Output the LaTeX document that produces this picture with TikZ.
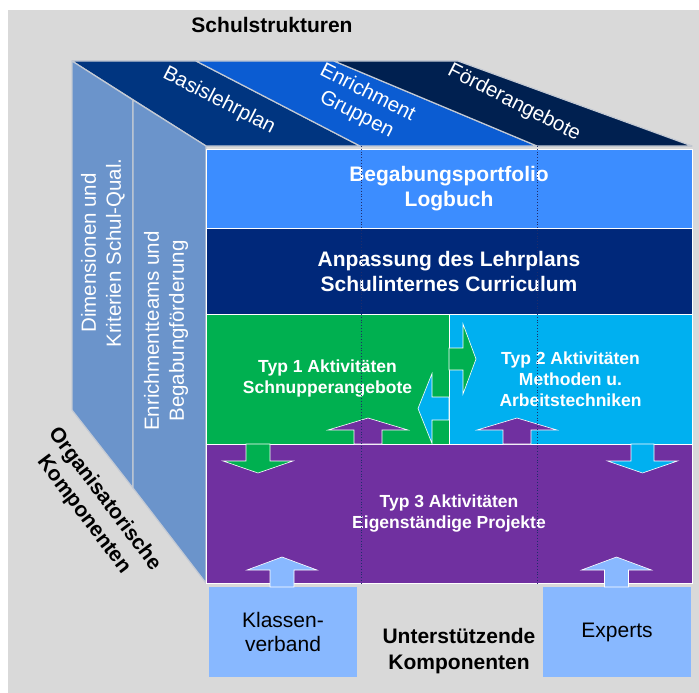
\documentclass[tikz,border=0pt]{standalone}
\usepackage{fontspec}
\setmainfont{Liberation Sans}
\usepackage{tikz}

\definecolor{bggray}{HTML}{D9D9D9}
\definecolor{edgegray}{HTML}{C4CAD4}
\definecolor{sideblue}{HTML}{6B94CB}
\definecolor{basisblue}{HTML}{003580}
\definecolor{enrichblue}{HTML}{0B5CD2}
\definecolor{foerderblue}{HTML}{002050}
\definecolor{portblue}{HTML}{3C8DFF}
\definecolor{planblue}{HTML}{00287A}
\definecolor{typgreen}{HTML}{00B050}
\definecolor{typcyan}{HTML}{00B0F0}
\definecolor{typpurple}{HTML}{7030A0}
\definecolor{boxblue}{HTML}{88B8FF}
\definecolor{dotblue}{HTML}{1F2D6B}

\tikzstyle{slab}=[draw=edgegray,line width=1.2pt,line join=round]
\tikzstyle{row}=[rectangle,draw=white,line width=0.8pt,inner sep=0pt,text=white,align=center,font=\bfseries\fontsize{21}{25}\selectfont]
\tikzstyle{typ}=[row,font=\bfseries\fontsize{17.5}{21}\selectfont]
\tikzstyle{sidelabel}=[text=white,align=center,rotate=90,font=\fontsize{20.5}{25}\selectfont]
\tikzstyle{toplabel}=[text=white,align=center,rotate=-27,font=\fontsize{20.5}{24}\selectfont]
\tikzstyle{title}=[align=center,font=\bfseries\fontsize{21}{26}\selectfont]
\tikzstyle{support}=[rectangle,fill=boxblue,inner sep=0pt,minimum width=148,minimum height=90,align=center,font=\fontsize{21}{24}\selectfont]
\tikzstyle{arrowline}=[draw=white,line width=0.6pt,line join=miter]
\tikzstyle{dotline}=[draw=dotblue,dotted,line width=0.8pt]

% block arrow: position, angle, colour, shaft half width, shaft length, head half width, head length
\newcommand{\barrow}[7]{%
  \filldraw[arrowline,fill=#3,shift={(#1)},rotate=#2] (0,-#4) -- (#5,-#4) -- (#5,-#6) -- ({#5+#7},0) -- (#5,#6) -- (#5,#4) -- (0,#4) -- cycle;}

\begin{document}
\begin{tikzpicture}[x=1pt,y=-1pt]
\useasboundingbox (0,0) rectangle (699,693);
\fill[bggray] (8,10) rectangle (699,693);

% top face
\filldraw[slab,fill=basisblue] (72,61) -- (196,61) -- (360,146) -- (206,146) -- cycle;
\filldraw[slab,fill=enrichblue] (196,61) -- (334,61) -- (537,146) -- (360,146) -- cycle;
\filldraw[slab,fill=foerderblue] (334,61) -- (458,61) -- (692,146) -- (537,146) -- cycle;

% left face
\filldraw[slab,fill=sideblue] (72,61) -- (133,100) -- (133,488) -- (72,410) -- cycle;
\filldraw[slab,fill=sideblue] (133,100) -- (206,146) -- (206,583) -- (133,488) -- cycle;

% front face
\node[row,fill=portblue,minimum width=486,minimum height=79] (portfolio) at (449,188.5) {Begabungsportfolio\\Logbuch};
\node[row,fill=planblue,minimum width=486,minimum height=86] (lehrplan) at (449,271) {Anpassung des Lehrplans\\Schulinternes Curriculum};
\node[typ,fill=typgreen,minimum width=243,minimum height=130] (typ1) at (327.5,379) {Typ 1 Aktivitäten\\Schnupperangebote};
\node[typ,fill=typcyan,minimum width=243,minimum height=130] (typ2) at (570.5,379) {Typ 2 Aktivitäten\\Methoden u.\\Arbeitstechniken};
\node[typ,fill=typpurple,minimum width=486,minimum height=139] (typ3) at (449,513.5) {Typ 3 Aktivitäten\\Eigenständige Projekte};

\node[support] (klasse) at (283,632) {Klassen-\\verband};
\node[support] (experts) at (617,632) {Experts};

\barrow{449,359}{0}{typgreen}{11}{14}{35}{13}
\barrow{449,408.5}{180}{typcyan}{11.5}{17}{35}{14}
\foreach \x in {368,517}{
  \barrow{\x,444}{90}{typpurple}{14}{14}{40}{12}
}
\barrow{258,444}{-90}{typgreen}{12}{17}{35}{12}
\barrow{642.5,444}{-90}{typcyan}{11.5}{17}{35}{12}
\foreach \x in {282,616.5}{
  \barrow{\x,587}{90}{boxblue}{12}{17}{35}{13}
}

\foreach \x in {361,537}
  \draw[dotline] (\x,146) -- (\x,583);

% labels
\node[toplabel] (basis) at (219,101) {Basislehrplan};
\node[toplabel] (enrich) at (362,104) {Enrichment\\Gruppen};
\node[toplabel] (foerder) at (514,103) {Förderangebote};
\node[sidelabel] (dimension) at (103,253) {Dimensionen und\\Kriterien Schul-Qual.};
\node[sidelabel] (teams) at (166,331) {Enrichmentteams und\\Begabungförderung};

\node[title] (struktur) at (272,24.5) {Schulstrukturen};
\node[title,rotate=-53] (orga) at (94,507) {Organisatorische\\Komponenten};
\node[title] (unterst) at (459,651) {Unterstützende\\Komponenten};
\end{tikzpicture}
\end{document}
